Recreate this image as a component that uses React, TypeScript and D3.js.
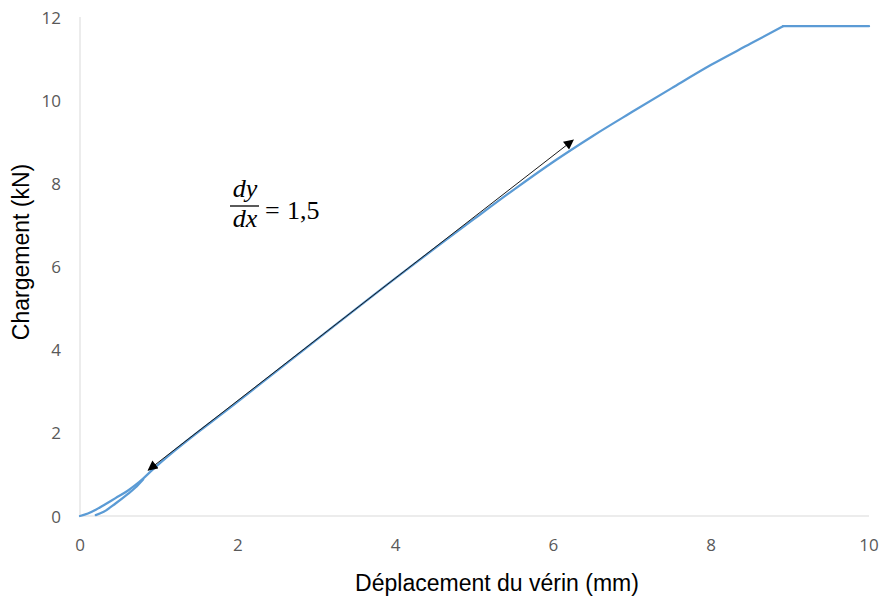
import React from "react";
import * as d3 from "d3";

const xTicks = [0, 2, 4, 6, 8, 10];
const yTicks = [0, 2, 4, 6, 8, 10, 12];

// main loading curve (displacement mm, load kN)
const loadX = [0, 0.1, 0.2, 0.3, 0.45, 0.6, 0.7, 0.8, 0.9, 2, 3, 4, 5, 5.5, 6, 6.5, 7, 7.5, 8, 8.5, 8.91];
const loadY = [0, 0.06, 0.15, 0.26, 0.43, 0.6, 0.74, 0.9, 1.08, 2.75, 4.24, 5.72, 7.15, 7.85, 8.52, 9.14, 9.72, 10.29, 10.85, 11.36, 11.78];

// plateau at maximum load
const plateauX = [8.91, 10];
const plateauY = [11.78, 11.78];

// second short branch near origin
const branchX = [0.2, 0.3, 0.45, 0.6, 0.7, 0.8];
const branchY = [0.02, 0.1, 0.3, 0.52, 0.68, 0.88];

// tangent arrow (slope 1,5)
const arrowX = [0.866, 6.25];
const arrowY = [1.105, 9.04];

const W = 883;
const H = 600;
const left = 80;
const right = 869;
const top = 17;
const bottom = 516;

export default function App() {
  const x = d3.scaleLinear().domain([0, 10]).range([left, right]);
  const y = d3.scaleLinear().domain([0, 12]).range([bottom, top]);

  const smooth = d3
    .line<[number, number]>()
    .x((d) => x(d[0]))
    .y((d) => y(d[1]))
    .curve(d3.curveMonotoneX);
  const straight = d3
    .line<[number, number]>()
    .x((d) => x(d[0]))
    .y((d) => y(d[1]));

  const mainPts: [number, number][] = loadX.map((v, i) => [v, loadY[i]]);
  const plateauPts: [number, number][] = plateauX.map((v, i) => [v, plateauY[i]]);
  const branchPts: [number, number][] = branchX.map((v, i) => [v, branchY[i]]);
  const arrowPts: [number, number][] = arrowX.map((v, i) => [v, arrowY[i]]);

  const tickFont = "'Open Sans', sans-serif";
  const titleFont = "'Liberation Sans', Arial, sans-serif";
  const mathFont = "'Liberation Serif', 'DejaVu Serif', serif";
  const blue = "#5B9BD5";

  return (
    <svg
      width={W}
      height={H}
      style={{ position: "absolute", left: 0, top: 0, background: "#fff" }}
    >
      <defs>
        <marker
          id="arrowHead"
          viewBox="0 0 10 10"
          refX="9"
          refY="5"
          markerWidth="11"
          markerHeight="10"
          markerUnits="userSpaceOnUse"
          orient="auto-start-reverse"
        >
          <path d="M0,0 L10,5 L0,10 Z" fill="#000" />
        </marker>
      </defs>
      <rect x={0} y={0} width={W} height={H} fill="#fff" />

      {/* axes */}
      <line x1={x(0)} x2={x(0)} y1={y(12)} y2={y(0)} stroke="#D9D9D9" strokeWidth={1} />
      <line x1={x(0)} x2={x(10)} y1={y(0)} y2={y(0)} stroke="#D9D9D9" strokeWidth={1} />

      {/* y ticks */}
      {yTicks.map((t) => (
        <text
          key={"y" + t}
          x={61}
          y={y(t)}
          textAnchor="end"
          dominantBaseline="central"
          fontFamily={tickFont}
          fontSize={17}
          fill="#595959"
        >
          {t}
        </text>
      ))}
      {/* x ticks */}
      {xTicks.map((t) => (
        <text
          key={"x" + t}
          x={x(t)}
          y={544}
          textAnchor="middle"
          dominantBaseline="central"
          fontFamily={tickFont}
          fontSize={17}
          fill="#595959"
        >
          {t}
        </text>
      ))}

      {/* curves */}
      <path d={smooth(branchPts) || ""} fill="none" stroke={blue} strokeWidth={2.25} strokeLinejoin="round" strokeLinecap="round" />
      <path d={smooth(mainPts) || ""} fill="none" stroke={blue} strokeWidth={2.25} strokeLinejoin="round" strokeLinecap="round" />
      <path d={straight(plateauPts) || ""} fill="none" stroke={blue} strokeWidth={2.25} strokeLinejoin="round" strokeLinecap="round" />

      {/* tangent arrow */}
      <path
        d={straight(arrowPts) || ""}
        fill="none"
        stroke="#1a1a1a"
        strokeWidth={1}
        markerStart="url(#arrowHead)"
        markerEnd="url(#arrowHead)"
      />

      {/* formula */}
      <text x={245} y={197} textAnchor="middle" fontFamily={mathFont} fontStyle="italic" fontSize={26} fill="#000">
        dy
      </text>
      <line x1={230} x2={259} y1={206} y2={206} stroke="#000" strokeWidth={1.3} />
      <text x={245} y={227} textAnchor="middle" fontFamily={mathFont} fontStyle="italic" fontSize={26} fill="#000">
        dx
      </text>
      <text x={265} y={219} fontFamily={mathFont} fontSize={26} fill="#000">
        =
      </text>
      <text x={287} y={219} fontFamily={mathFont} fontSize={26} fill="#000">
        1,5
      </text>

      {/* titles */}
      <text
        x={497}
        y={591}
        textAnchor="middle"
        fontFamily={titleFont}
        fontSize={23}
        fill="#000"
      >
        Déplacement du vérin (mm)
      </text>
      <text
        transform={`translate(29,252) rotate(-90)`}
        textAnchor="middle"
        fontFamily={titleFont}
        fontSize={23}
        fill="#000"
      >
        Chargement (kN)
      </text>
    </svg>
  );
}
